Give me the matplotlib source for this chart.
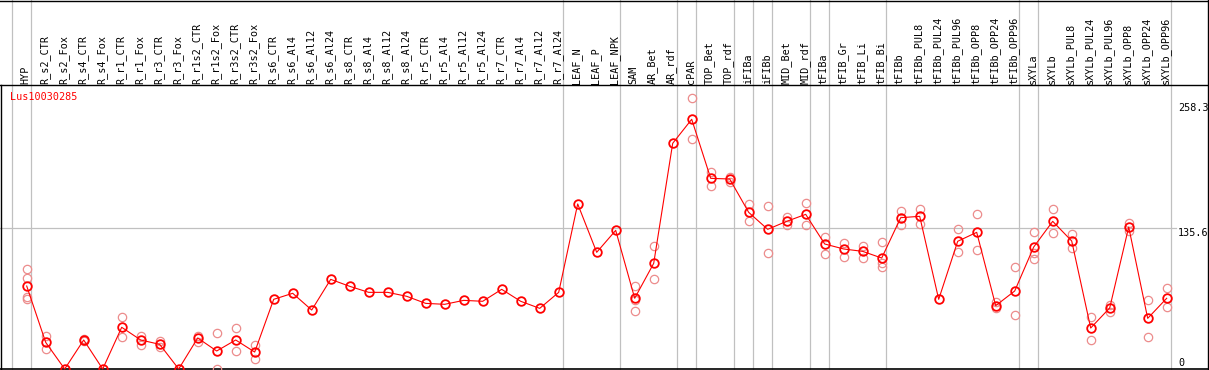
import numpy as np
import matplotlib.pyplot as plt

# samples, in plot order
categories = [
    "HYP",
    "R_s2_CTR", "R_s2_Fox", "R_s4_CTR", "R_s4_Fox", "R_r1_CTR", "R_r1_Fox",
    "R_r3_CTR", "R_r3_Fox", "R_r1s2_CTR", "R_r1s2_Fox", "R_r3s2_CTR", "R_r3s2_Fox",
    "R_s6_CTR", "R_s6_Al4", "R_s6_Al12", "R_s6_Al24", "R_s8_CTR", "R_s8_Al4",
    "R_s8_Al12", "R_s8_Al24", "R_r5_CTR", "R_r5_Al4", "R_r5_Al12", "R_r5_Al24",
    "R_r7_CTR", "R_r7_Al4", "R_r7_Al12", "R_r7_Al24",
    "LEAF_N", "LEAF_P", "LEAF_NPK",
    "SAM", "AR_Bet", "AR_rdf",
    "cPAR",
    "TOP_Bet", "TOP_rdf",
    "iFIBa",
    "iFIBb",
    "MID_Bet", "MID_rdf",
    "tFIBa",
    "tFIB_Gr", "tFIB_Li", "tFIB_Bi",
    "tFIBb", "tFIBb_PUL8", "tFIBb_PUL24", "tFIBb_PUL96", "tFIBb_OPP8",
    "tFIBb_OPP24", "tFIBb_OPP96",
    "sXYLa",
    "sXYLb", "sXYLb_PUL8", "sXYLb_PUL24", "sXYLb_PUL96", "sXYLb_OPP8",
    "sXYLb_OPP24", "sXYLb_OPP96",
]

# how many samples sit in each separated block
group_sizes = [1, 28, 3, 3, 1, 2, 1, 1, 2, 1, 3, 7, 1, 7]

means = [
    79.8,
    25.6, 0.0, 27.9, 0.0, 40.1, 27.9,
    23.7, 0.0, 29.8, 17.3, 27.9, 16.3,
    67.0, 72.8, 56.7, 86.2, 79.5, 73.7,
    73.7, 69.9, 63.1, 62.2, 66.0, 65.1,
    76.6, 65.1, 58.3, 73.7,
    158.7, 112.2, 133.3,
    68.0, 101.6, 217.0,
    240.1,
    183.3, 182.7,
    150.6,
    134.3,
    142.0, 148.7,
    120.2,
    115.4, 113.1, 106.7,
    145.5, 146.8, 67.0, 122.8, 131.4,
    60.9, 75.0,
    117.3,
    142.0, 123.1, 39.4, 58.7, 136.5,
    48.7, 68.0,
]

replicates = [
    [96.2, 87.2, 68.9, 67.0],
    [32.1, 19.0], [], [28.5, 27.3], [], [49.7, 30.4], [31.7, 23.1],
    [27.2, 21.5], [], [32.1, 26.3], [34.3, 0.0], [39.1, 17.3], [22.8, 9.3],
    [], [], [], [], [], [],
    [], [], [], [], [], [],
    [], [], [], [],
    [], [], [],
    [79.8, 55.8, 66.0], [118.3, 86.2], [],
    [260.3, 220.9],
    [189.7, 176.3], [184.9, 179.5],
    [158.7, 142.0],
    [156.4, 111.2],
    [146.2, 138.5], [159.3, 138.1],
    [126.9, 110.6],
    [120.8, 107.4], [118.6, 106.4], [121.8, 101.6, 97.8],
    [151.9, 138.5], [153.8, 139.1], [], [134.3, 112.2], [148.7, 114.1],
    [64.1, 58.3], [98.1, 51.6],
    [131.4, 111.9, 105.4],
    [153.8, 130.4], [129.5, 116.7], [49.7, 27.9], [61.5, 55.1], [140.7, 132.4],
    [66.3, 30.4], [77.6, 59.3],
]

gene = "Lus10030285"
y_ticks = [258.3, 135.6, 0]
grid_value = 135.6

RED = "#ff0000"
PINK = "#ec8c8c"
GRAY = "#c0c0c0"
FONT = "DejaVu Sans Mono"
FS = 7.3

W, H = 1209, 370
fig = plt.figure(figsize=(W / 100, H / 100), dpi=100)
ax = fig.add_axes([0, 0, 1, 1])
ax.set_axis_off()

# pixel layout -> data units
x0, dx = 26.7, 19.0          # first sample pixel, spacing
y0, k = 369.0, 1.04          # zero line pixel, px per unit
ax.set_xlim(-x0 / dx, (W - x0) / dx)
ax.set_ylim((y0 - H) / k, y0 / k)

def px_x(p):
    return (p - x0) / dx

def px_y(p):
    return (y0 - p) / k

xs = np.arange(len(categories))

# frame
ax.plot([px_x(0), px_x(W)], [px_y(0.5)] * 2, color="black", lw=1.0, clip_on=False)
ax.plot([px_x(0), px_x(W)], [px_y(85)] * 2, color="black", lw=1.0)
ax.plot([px_x(0), px_x(W)], [px_y(369)] * 2, color="black", lw=1.2)
ax.plot([px_x(1)] * 2, [px_y(85), px_y(370)], color="black", lw=1.0)
ax.plot([px_x(1208)] * 2, [px_y(0), px_y(370)], color="black", lw=1.0)

# group separators
bounds = [-1] + list(np.cumsum(group_sizes) - 1)
for b in bounds:
    ax.axvline(b + 4 / dx, color=GRAY, lw=0.9, zorder=1)

ax.plot([px_x(0), px_x(1176)], [grid_value] * 2, color=GRAY, lw=0.9, zorder=1)

# replicates
for i, reps in enumerate(replicates):
    if reps:
        ax.plot([i] * len(reps), reps, "o", ms=6.0, mfc="none", mec=PINK,
                mew=0.9, zorder=2)

# mean line and markers
ax.plot(xs, means, color=RED, lw=0.8, zorder=3)
ax.plot(xs, means, "o", ms=6.2, mfc="none", mec=RED, mew=1.3, zorder=4)

# sample labels
for i, name in enumerate(categories):
    ax.text(i - 0.05, px_y(84), name, rotation=90, ha="center", va="bottom",
            family=FONT, fontsize=FS, color="black")

ax.text(px_x(10), px_y(92), gene, ha="left", va="top", family=FONT,
        fontsize=FS, color=RED)

tick_tops = [103, 228, 358]
for v, top in zip(y_ticks, tick_tops):
    ax.text(px_x(1178), px_y(top), str(v), ha="left", va="top", family=FONT,
            fontsize=FS, color="black")

fig.savefig("out.png", dpi=100)
